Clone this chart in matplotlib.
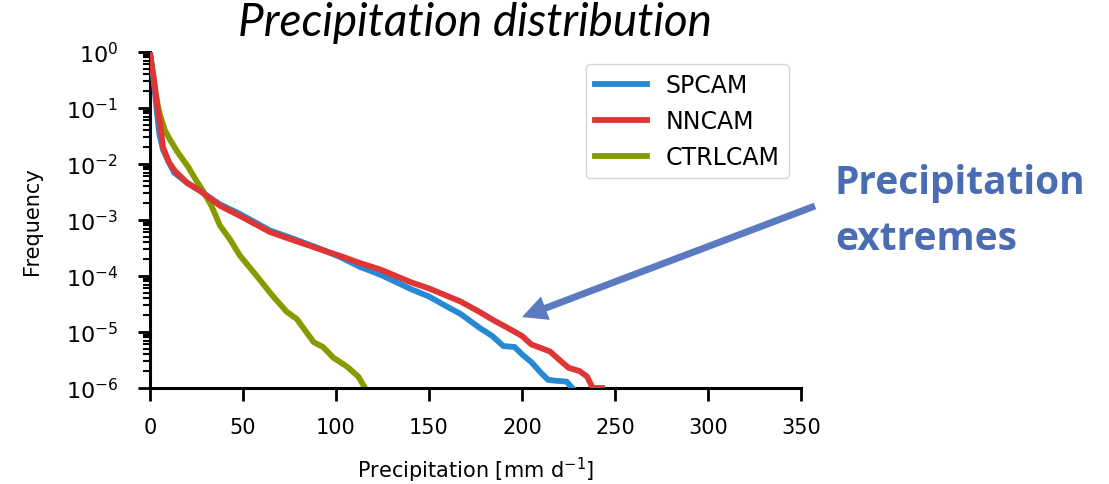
import numpy as np
import matplotlib
matplotlib.use("Agg")
import matplotlib.pyplot as plt

# values (x in mm/day, y as frequency)
sp_x = [0, 2, 4, 5, 7, 10, 13, 20, 27, 37.6, 48, 64.5, 75, 91, 102, 113, 124,
        140, 150, 160, 167, 177, 184, 190, 196, 200, 205, 210, 214, 218, 224, 227]
sp_y = [1.0, 0.3, 0.07, 0.035, 0.018, 0.011, 7e-3, 4.6e-3, 3.3e-3, 1.9e-3, 1.3e-3,
        6.5e-4, 4.9e-4, 3.1e-4, 2.2e-4, 1.45e-4, 1.05e-4, 5.9e-5, 4.3e-5, 2.8e-5,
        2.1e-5, 1.2e-5, 8.5e-6, 5.6e-6, 5.4e-6, 4e-6, 2.9e-6, 1.9e-6, 1.4e-6,
        1.35e-6, 1.3e-6, 1.0e-6]

nn_x = [0, 2, 4, 5.5, 7, 10, 13.4, 20, 27, 37.6, 48, 64.5, 75, 91.4, 102, 113, 124,
        140, 150, 167, 177, 185, 192, 200, 205, 210, 215, 220, 225, 231, 235, 238, 243]
nn_y = [0.9, 0.35, 0.1, 0.05, 0.02, 0.011, 7.5e-3, 4.6e-3, 3.3e-3, 1.8e-3, 1.2e-3,
        6.1e-4, 4.6e-4, 3.0e-4, 2.3e-4, 1.7e-4, 1.3e-4, 7.8e-5, 6.0e-5, 3.5e-5,
        2.3e-5, 1.6e-5, 1.2e-5, 8.5e-6, 6e-6, 5.2e-6, 4.5e-6, 3.2e-6, 2.3e-6,
        2.0e-6, 1.6e-6, 1.0e-6, 1.0e-6]

ctrl_x = [0, 2, 4, 5.4, 8, 10.8, 15, 20.4, 25, 28.5, 33, 37.6, 43, 48.4, 57.4, 66,
          73.5, 79, 84, 88, 93, 98.5, 106, 112, 115.6]
ctrl_y = [1.0, 0.3, 0.12, 0.075, 0.04, 0.027, 0.016, 9e-3, 5e-3, 3.3e-3, 1.8e-3,
          8e-4, 4.5e-4, 2.3e-4, 1e-4, 4.4e-5, 2.3e-5, 1.7e-5, 1e-5, 6.6e-6, 5.4e-6,
          3.5e-6, 2.4e-6, 1.6e-6, 1.0e-6]

labels = ["SPCAM", "NNCAM", "CTRLCAM"]
colors = ["#2689d4", "#e03535", "#879b00"]
x_ticks = [0, 50, 100, 150, 200, 250, 300, 350]

fig = plt.figure(figsize=(11.09, 4.85), dpi=100)
ax = fig.add_axes([150 / 1109, 1 - 389 / 485, 651 / 1109, 336 / 485])

ax.plot(sp_x, sp_y, color=colors[0], lw=4.2, label=labels[0], zorder=3)
ax.plot(nn_x, nn_y, color=colors[1], lw=4.2, label=labels[1], zorder=4)
ax.plot(ctrl_x, ctrl_y, color=colors[2], lw=4.2, label=labels[2], zorder=2)

ax.set_yscale("log")
ax.set_ylim(1e-6, 1)
ax.set_xlim(0, 350)
ax.set_xticks(x_ticks)

for s in ["top", "right"]:
    ax.spines[s].set_visible(False)
for s in ["left", "bottom"]:
    ax.spines[s].set_linewidth(2.2)

ax.tick_params(which="major", direction="out", length=9, width=2)
ax.tick_params(which="minor", direction="out", length=5, width=1.5)
ax.tick_params(axis="y", which="major", labelsize=16, pad=14)
ax.tick_params(axis="x", which="major", labelsize=15, pad=12)

ax.set_ylabel("Frequency", fontsize=15)
ax.yaxis.set_label_coords(-0.166, 0.5)
ax.set_xlabel("Precipitation [mm d$^{-1}$]", fontsize=15)
ax.xaxis.set_label_coords(0.5, -0.2)

ax.set_title("Precipitation distribution", fontsize=33, family="Lato",
             style="italic", pad=12)

ax.legend(fontsize=17, handlelength=2.2, loc="upper right")

# annotation for the tail of the distribution
ax.annotate("", xy=(200, 1.85e-5), xycoords="data",
            xytext=(815 / 1109, 1 - 207 / 485), textcoords="figure fraction",
            annotation_clip=False,
            arrowprops=dict(width=5, headwidth=18, headlength=18, shrink=0,
                            color="#5b7bc0", lw=0))
fig.text(835 / 1109, 1 - 194 / 485, "Precipitation", fontsize=28, family="Open Sans",
         weight="bold", color="#4a6cb3", ha="left", va="baseline")
fig.text(835 / 1109, 1 - 250 / 485, "extremes", fontsize=28, family="Open Sans",
         weight="bold", color="#4a6cb3", ha="left", va="baseline")

fig.savefig("out.png", dpi=100)
